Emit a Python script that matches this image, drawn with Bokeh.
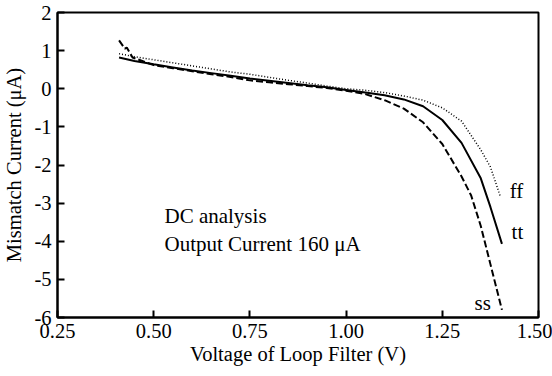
from bokeh.plotting import figure
from bokeh.models import Range1d, FixedTicker, Label
from bokeh.embed import file_html
from bokeh.resources import INLINE

# ---- data ----
x_tt = [0.41, 0.45, 0.50, 0.55, 0.60, 0.65, 0.70, 0.75, 0.80, 0.85, 0.90, 0.95, 1.00,
        1.05, 1.10, 1.15, 1.20, 1.25, 1.30, 1.35, 1.375, 1.405]
y_tt = [0.82, 0.73, 0.64, 0.56, 0.48, 0.41, 0.34, 0.27, 0.21, 0.15, 0.09, 0.04, -0.03,
        -0.10, -0.17, -0.28, -0.46, -0.82, -1.42, -2.35, -3.10, -4.07]

x_ff = [0.41, 0.45, 0.50, 0.55, 0.60, 0.65, 0.70, 0.75, 0.80, 0.85, 0.90, 0.95, 1.00,
        1.05, 1.10, 1.15, 1.20, 1.25, 1.30, 1.35, 1.375, 1.40]
y_ff = [0.92, 0.84, 0.76, 0.68, 0.60, 0.52, 0.44, 0.38, 0.30, 0.22, 0.15, 0.07, 0.00,
        -0.04, -0.10, -0.19, -0.30, -0.50, -0.85, -1.60, -2.05, -2.80]

x_ss = [0.41, 0.425, 0.43, 0.445, 0.50, 0.55, 0.60, 0.65, 0.70, 0.75, 0.80, 0.85, 0.90,
        0.95, 1.00, 1.05, 1.10, 1.15, 1.20, 1.25, 1.30, 1.325, 1.35, 1.375, 1.405]
y_ss = [1.27, 1.05, 1.08, 0.82, 0.62, 0.54, 0.46, 0.38, 0.31, 0.22, 0.17, 0.12, 0.07,
        0.02, -0.05, -0.14, -0.30, -0.52, -0.88, -1.45, -2.30, -2.80, -3.60, -4.60, -5.80]

x_ticks = [0.25, 0.50, 0.75, 1.00, 1.25, 1.50]
x_tick_labels = ["0.25", "0.50", "0.75", "1.00", "1.25", "1.50"]
y_ticks = [-6, -5, -4, -3, -2, -1, 0, 1, 2]
y_tick_labels = ["-6", "-5", "-4", "-3", "-2", "-1", "0", "1", "2"]

FONT = "Liberation Serif"
FS = "20.5px"

p = figure(width=552, height=376, output_backend="svg", toolbar_location=None,
           x_range=Range1d(0.25, 1.50), y_range=Range1d(-6, 2),
           min_border_left=56, min_border_right=14, min_border_top=12, min_border_bottom=59)
p.grid.visible = False
p.background_fill_color = "white"
p.border_fill_color = "white"
p.outline_line_color = "black"
p.outline_line_width = 2
p.outline_line_alpha = 1.0

for ax, ticks, labels in ((p.xaxis[0], x_ticks, x_tick_labels), (p.yaxis[0], y_ticks, y_tick_labels)):
    ax.ticker = FixedTicker(ticks=ticks)
    ax.major_label_overrides = {t: l for t, l in zip(ticks, labels)}
    ax.minor_tick_line_color = None
    ax.major_tick_in = 7
    ax.major_tick_out = 0
    ax.major_tick_line_width = 2
    ax.major_tick_line_color = "black"
    ax.axis_line_width = 2
    ax.axis_line_color = "black"
    ax.major_label_text_font = FONT
    ax.major_label_text_font_size = FS
    ax.major_label_text_color = "black"
    ax.axis_label_text_font = FONT
    ax.axis_label_text_font_size = FS
    ax.axis_label_text_font_style = "normal"
    ax.axis_label_text_color = "black"

p.xaxis.axis_label = "Voltage of Loop Filter (V)"
p.yaxis.axis_label = "Mismatch Current (\u03bcA)"
p.xaxis.major_label_standoff = 6
p.yaxis.major_label_standoff = 6
p.xaxis.axis_label_standoff = 2
p.yaxis.axis_label_standoff = 6

p.line(x_ff, y_ff, line_color="black", line_width=1.5, line_dash="1 2")
p.line(x_tt, y_tt, line_color="black", line_width=2)
p.line(x_ss, y_ss, line_color="black", line_width=2, line_dash="7 3")

for txt, lx, ly in (("DC analysis", 0.528, -3.35),
                    ("Output Current 160 \u03bcA", 0.528, -4.06),
                    ("ff", 1.425, -2.67),
                    ("tt", 1.430, -3.77),
                    ("ss", 1.334, -5.63)):
    p.add_layout(Label(x=lx, y=ly, text=txt, text_font=FONT, text_font_size="21px",
                       text_color="black", text_baseline="alphabetic", text_align="left"))

open("out.html", "w").write(file_html(p, INLINE))
